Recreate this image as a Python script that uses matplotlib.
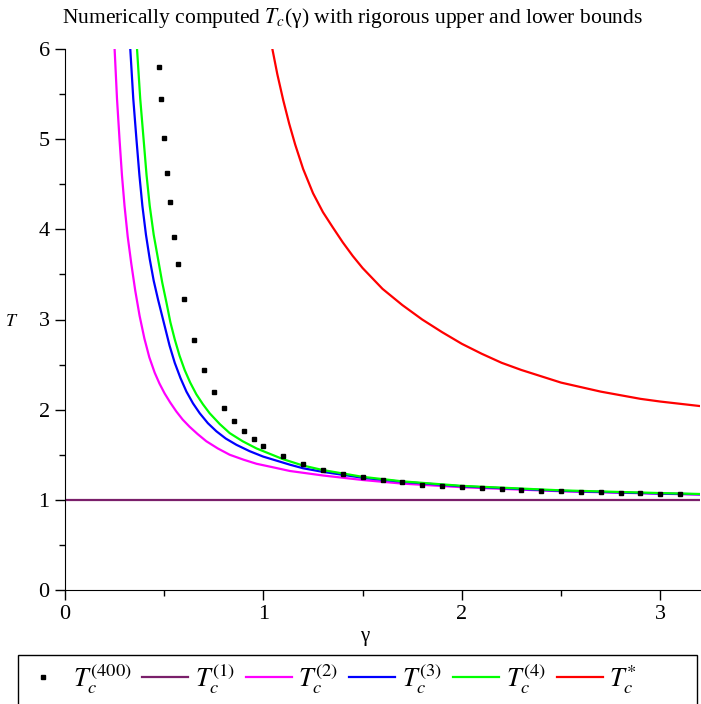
import matplotlib
matplotlib.use('Agg')
import matplotlib.pyplot as plt
from matplotlib.ticker import MultipleLocator
from matplotlib.patches import Rectangle

plt.rcParams['font.family'] = ['Liberation Serif', 'DejaVu Serif']
plt.rcParams['mathtext.fontset'] = 'stix'

# numerically computed T_c (dots)
gamma_num = [0.474, 0.484, 0.499, 0.514, 0.529, 0.549, 0.569, 0.60, 0.65, 0.70, 0.75,
             0.80, 0.85, 0.90, 0.95, 1.0, 1.1, 1.2, 1.3, 1.4, 1.5, 1.6, 1.7, 1.8, 1.9,
             2.0, 2.1, 2.2, 2.3, 2.4, 2.5, 2.6, 2.7, 2.8, 2.9, 3.0, 3.1]
tc_num = [5.80, 5.45, 5.01, 4.62, 4.30, 3.92, 3.61, 3.23, 2.77, 2.44, 2.20,
          2.02, 1.87, 1.76, 1.67, 1.60, 1.49, 1.40, 1.33, 1.29, 1.25, 1.22, 1.20, 1.17, 1.15,
          1.14, 1.13, 1.12, 1.11, 1.10, 1.10, 1.09, 1.09, 1.075, 1.075, 1.065, 1.065]

# lower bound T_c^(1)
gamma_1 = [0.0, 3.2]
tc_1 = [1.0, 1.0]

# T_c^(2)
gamma_2 = [0.250, 0.262, 0.275, 0.287, 0.300, 0.316, 0.334, 0.354, 0.376, 0.40, 0.425, 0.452,
           0.476, 0.502, 0.53, 0.561, 0.593, 0.628, 0.668, 0.712, 0.77, 0.83, 0.90, 0.965,
           1.05, 1.133, 1.3, 1.5, 1.7, 2.0, 2.5, 3.0, 3.2]
tc_2 = [6.0, 5.45, 4.99, 4.60, 4.26, 3.92, 3.62, 3.32, 3.04, 2.79, 2.58, 2.41,
        2.29, 2.18, 2.08, 1.98, 1.89, 1.81, 1.73, 1.65, 1.57, 1.50, 1.445, 1.40,
        1.36, 1.32, 1.27, 1.22, 1.18, 1.14, 1.095, 1.068, 1.058]

# T_c^(3)
gamma_3 = [0.329, 0.344, 0.36, 0.375, 0.39, 0.408, 0.427, 0.447, 0.469, 0.502, 0.527, 0.553,
           0.582, 0.612, 0.645, 0.679, 0.72, 0.763, 0.81, 0.864, 0.93, 0.998, 1.133,
           1.2, 1.3, 1.5, 1.7, 2.0, 2.5, 3.0, 3.2]
tc_3 = [6.0, 5.45, 5.0, 4.60, 4.26, 3.94, 3.67, 3.43, 3.22, 2.93, 2.71, 2.52,
        2.35, 2.20, 2.07, 1.96, 1.85, 1.76, 1.68, 1.61, 1.54, 1.48, 1.39,
        1.35, 1.31, 1.245, 1.20, 1.15, 1.10, 1.07, 1.062]

# T_c^(4)
gamma_4 = [0.363, 0.379, 0.396, 0.411, 0.427, 0.447, 0.469, 0.49, 0.511, 0.531, 0.553, 0.577,
           0.603, 0.631, 0.662, 0.695, 0.729, 0.78, 0.83, 0.895, 0.965, 1.1, 1.2, 1.3,
           1.5, 1.7, 2.0, 2.5, 3.0, 3.2]
tc_4 = [6.0, 5.45, 5.0, 4.60, 4.26, 3.94, 3.67, 3.41, 3.19, 2.97, 2.78, 2.60,
        2.44, 2.30, 2.17, 2.06, 1.96, 1.84, 1.74, 1.65, 1.57, 1.45, 1.38, 1.33,
        1.255, 1.205, 1.155, 1.105, 1.075, 1.065]

# upper bound T_c^*
gamma_s = [1.045, 1.07, 1.10, 1.13, 1.16, 1.20, 1.25, 1.30, 1.35, 1.40, 1.45, 1.50, 1.60,
           1.70, 1.80, 1.90, 2.00, 2.10, 2.20, 2.30, 2.40, 2.50, 2.60, 2.70, 2.80, 2.90,
           3.00, 3.10, 3.20]
tc_s = [6.0, 5.72, 5.43, 5.17, 4.94, 4.67, 4.40, 4.19, 4.02, 3.855, 3.705, 3.57, 3.34,
        3.16, 3.00, 2.86, 2.73, 2.62, 2.52, 2.44, 2.37, 2.30, 2.25, 2.20, 2.16, 2.12,
        2.09, 2.065, 2.04]

fig = plt.figure(figsize=(7.01, 7.04), dpi=100)
ax = fig.add_axes([65 / 701, 1 - 590 / 704, 635 / 701, 541 / 704])

ax.plot(gamma_num, tc_num, linestyle='none', marker='s', markersize=2.6,
        color='black', label=r'$T_c^{(400)}$', zorder=5)
ax.plot(gamma_1, tc_1, color='#7a1f6a', lw=1.6, label=r'$T_c^{(1)}$')
ax.plot(gamma_2, tc_2, color='#ff00ff', lw=1.6, label=r'$T_c^{(2)}$')
ax.plot(gamma_3, tc_3, color='#0000ff', lw=1.6, label=r'$T_c^{(3)}$')
ax.plot(gamma_4, tc_4, color='#00ff00', lw=1.6, label=r'$T_c^{(4)}$')
ax.plot(gamma_s, tc_s, color='#ff0000', lw=1.6, label=r'$T_c^{*}$')

ax.set_xlim(0, 3.2)
ax.set_ylim(0, 6)
ax.spines['top'].set_visible(False)
ax.spines['right'].set_visible(False)
ax.xaxis.set_major_locator(MultipleLocator(1))
ax.xaxis.set_minor_locator(MultipleLocator(0.5))
ax.yaxis.set_major_locator(MultipleLocator(1))
ax.yaxis.set_minor_locator(MultipleLocator(0.5))
ax.tick_params(which='major', length=7, width=1, labelsize=16, pad=4)
ax.tick_params(which='minor', length=4, width=1)

fig.text(352 / 701, 1 - 18 / 704,
         r'Numerically computed $T_c$(γ) with rigorous upper and lower bounds',
         fontsize=15.5, ha='center', va='center')
fig.text(365 / 701, 1 - 637 / 704, 'γ', fontsize=15, ha='center', va='center')
fig.text(12 / 701, 1 - 322 / 704, r'$T$', fontsize=13, ha='center', va='center')

# legend entries, box drawn separately so it spans the full width
handles, labels = ax.get_legend_handles_labels()
leg = fig.legend(handles, labels, loc='center left', bbox_to_anchor=(20 / 701, 1 - 679 / 704),
                 ncol=6, fontsize=19, frameon=False, borderaxespad=0, borderpad=0,
                 handlelength=1.75, handletextpad=0.25, columnspacing=0.4)
box = Rectangle((18 / 701, -0.05), 679 / 701, 0.05 + (1 - 655 / 704),
                transform=fig.transFigure, fill=False, edgecolor='black', lw=1.0)
fig.add_artist(box)

fig.savefig('out.png', dpi=100)
